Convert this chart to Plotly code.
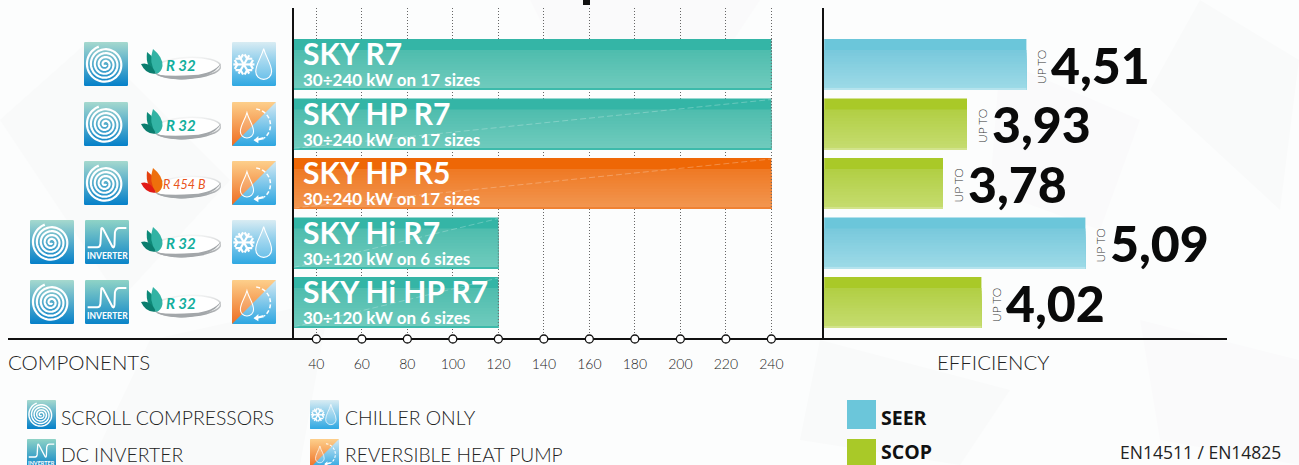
import base64, math
import plotly.graph_objects as go

W, H = 1299, 465
# ---------- data ----------
models = ["SKY R7", "SKY HP R7", "SKY HP R5", "SKY Hi R7", "SKY Hi HP R7"]
subtitles = ["30÷240 kW on 17 sizes", "30÷240 kW on 17 sizes", "30÷240 kW on 17 sizes",
             "30÷120 kW on 6 sizes", "30÷120 kW on 6 sizes"]
capacity_kw = [240, 240, 240, 120, 120]
capacity_start = 30
refrigerants = ["R 32", "R 32", "R 454 B", "R 32", "R 32"]
modes = ["chiller", "hp", "hp", "chiller", "hp"]
has_inverter = [False, False, False, True, True]
seer_models = ["SKY R7", "SKY Hi R7"]
seer_values = [4.51, 5.09]
scop_models = ["SKY HP R7", "SKY HP R5", "SKY Hi HP R7"]
scop_values = [3.93, 3.78, 4.02]
capacity_ticks = [40, 60, 80, 100, 120, 140, 160, 180, 200, 220, 240]

# ---------- styling ----------
TEAL = dict(band="#34b5a6", top="#4fbdae", bottom="#70cbbd", edge="#3dbaab")
ORANGE = dict(band="#ee6706", top="#ef7a25", bottom="#f29650", edge="#f08233")
BLUE = dict(band="#6bc6da", top="#79c9dc", bottom="#9ddae7", edge="#b5e3ed")
GREEN = dict(band="#a9c928", top="#b2cf45", bottom="#c5dc6f", edge="#d2e38c")
bar_fam = [TEAL, TEAL, ORANGE, TEAL, TEAL]
FONT = "Lato"
BAR_H = 51 / 59.5
PX = lambda v: v / W
PY = lambda v: 1 - v / H
ROW_Y = [42, 102, 161, 220, 280]


def mix(a, b, t):
    ca = [int(a[i:i + 2], 16) for i in (1, 3, 5)]
    cb = [int(b[i:i + 2], 16) for i in (1, 3, 5)]
    return "#" + "".join(f"{round(x + (y - x) * t):02x}" for x, y in zip(ca, cb))


def add_gradient_bars(fig, names, vals, fams, xa, ya):
    band = 11 / 51
    n = 14
    fig.add_trace(go.Bar(y=names, x=vals, orientation="h", xaxis=xa, yaxis=ya, width=BAR_H, offset=-BAR_H / 2,
                         marker=dict(color=[f["band"] for f in fams], line_width=0), hoverinfo="skip"))
    for i in range(n):
        t = i / (n - 1)
        f0 = band + (1 - band) * i / n
        fig.add_trace(go.Bar(y=names, x=vals, orientation="h", xaxis=xa, yaxis=ya,
                             width=BAR_H * (1 - f0), offset=-BAR_H / 2 + BAR_H * f0,
                             marker=dict(color=[mix(f["top"], f["bottom"], t) for f in fams], line_width=0),
                             hoverinfo="skip"))
    f0 = 1 - 1.2 / 51
    fig.add_trace(go.Bar(y=names, x=vals, orientation="h", xaxis=xa, yaxis=ya,
                         width=BAR_H * (1 - f0), offset=-BAR_H / 2 + BAR_H * f0,
                         marker=dict(color=[f["edge"] for f in fams], line_width=0), hoverinfo="skip"))


# ---------- icons (svg) ----------
def uri(svg):
    return "data:image/svg+xml;base64," + base64.b64encode(svg.encode()).decode()


def spiral_path(cx, cy, r0, r1, turns):
    pts = []
    for i in range(281):
        t = i / 280
        a = t * turns * 2 * math.pi + 0.6
        r = r0 + (r1 - r0) * t
        pts.append(f"{cx + r * math.cos(a):.1f} {cy + r * math.sin(a):.1f}")
    return "M" + " L".join(pts)


def grad(id_, c0, c1):
    return (f'<linearGradient id="{id_}" x1="0" y1="0" x2="0" y2="1"><stop offset="0" stop-color="{c0}"/>'
            f'<stop offset="1" stop-color="{c1}"/></linearGradient>')


def scroll_icon():
    return uri('<svg xmlns="http://www.w3.org/2000/svg" viewBox="0 0 100 100"><defs>' + grad("g", "#a6d9ce", "#0580c9") +
               '</defs><rect width="100" height="100" rx="3" fill="url(#g)"/>'
               f'<path d="{spiral_path(48, 51, 2, 43, 4.6)}" fill="none" stroke="#fff" stroke-width="5"/></svg>')


def inverter_icon():
    return uri('<svg xmlns="http://www.w3.org/2000/svg" viewBox="0 0 100 100"><defs>' + grad("g", "#8fd3c6", "#0a84c9") +
               '</defs><rect width="100" height="100" rx="3" fill="url(#g)"/>'
               '<path d="M6 62 H28 Q34 62 35 54 L37 20 Q38 16 41 20 L62 60 Q66 66 67 56 L68 28 Q70 18 78 18 H94" '
               'fill="none" stroke="#fff" stroke-width="4.5"/></svg>')


DROP = "M{x} {y} C{a} {b} {c} {d} {c} {e} A{r} {r} 0 1 1 {f} {e} C{f} {d} {g} {b} {x} {y}Z"


def drop(x, y, r, h):
    return DROP.format(x=x, y=y, a=x + r * .3, b=y + h * .3, c=x + r, d=y + h * .5, e=y + h - r, r=r,
                       f=x - r, g=x - r * .3)


def chiller_icon():
    cx, cy = 27, 51
    arms = "".join(f'<line x1="{cx}" y1="{cy}" x2="{cx + 24 * math.cos(a):.1f}" y2="{cy + 24 * math.sin(a):.1f}"/>'
                   f'<line x1="{cx + 15 * math.cos(a):.1f}" y1="{cy + 15 * math.sin(a):.1f}" '
                   f'x2="{cx + 23 * math.cos(a + .45):.1f}" y2="{cy + 23 * math.sin(a + .45):.1f}"/>'
                   f'<line x1="{cx + 15 * math.cos(a):.1f}" y1="{cy + 15 * math.sin(a):.1f}" '
                   f'x2="{cx + 23 * math.cos(a - .45):.1f}" y2="{cy + 23 * math.sin(a - .45):.1f}"/>'
                   for a in [i * math.pi / 3 for i in range(6)])
    return uri('<svg xmlns="http://www.w3.org/2000/svg" viewBox="0 0 100 100"><defs>' + grad("g", "#d9ecf3", "#2fa8e2") +
               '</defs><rect width="100" height="100" rx="3" fill="url(#g)"/>'
               f'<g stroke="#fff" stroke-width="5">{arms}</g>'
               f'<path d="{drop(72, 15, 18, 70)}" fill="#ffffff33" stroke="#fff" stroke-width="2.5"/></svg>')


def hp_icon():
    return uri('<svg xmlns="http://www.w3.org/2000/svg" viewBox="0 0 100 100"><defs>' +
               grad("o", "#fdcf8b", "#ee6d22") + grad("b", "#d6eaf3", "#2da6e1") +
               '</defs><rect width="100" height="100" rx="3" fill="url(#b)"/>'
               '<path d="M0 3 Q0 0 3 0 H100 L0 100Z" fill="url(#o)"/>'
               f'<path d="{drop(34, 24, 15, 58)}" fill="#ffffff22" stroke="#fff" stroke-width="2.4"/>'
               '<path d="M55 16 A37 37 0 0 1 73 82" fill="none" stroke="#fff" stroke-width="3.5" stroke-dasharray="9 5"/>'
               '<path d="M72 82 L52 87" fill="none" stroke="#fff" stroke-width="5"/>'
               '<path d="M49 87 L60 77 L60 94Z" fill="#fff"/></svg>')


def logo_icon(c_dark, c_mid, c_light):
    return uri('<svg xmlns="http://www.w3.org/2000/svg" viewBox="0 0 80 31" preserveAspectRatio="none"><defs>' +
               grad("s", "#f4f5f5", "#9da1a4") + '</defs>'
               '<g transform="rotate(-3 45 17)"><ellipse cx="46" cy="19" rx="33.5" ry="10.5" fill="#fff" stroke="url(#s)" stroke-width="1.6"/>'
               '<path d="M14 24 Q34 34 62 28 Q77 24 80 16 Q72 26 52 26.5 Q30 27 14 24Z" fill="#a3a7aa"/></g>'
               f'<path d="M6 3 Q15 9 16 24 Q4 20 6 3Z" fill="{c_mid}"/>'
               f'<path d="M0 15 Q9 12 15 24.5 Q5 26 0 15Z" fill="{c_dark}"/>'
               f'<path d="M12 0 Q22 8 21.5 17 Q20.5 23 15.5 25 Q7 14 12 0Z" fill="{c_light}"/></svg>')


SCROLL, INV, CHILL, HP = scroll_icon(), inverter_icon(), chiller_icon(), hp_icon()
L_TEAL = logo_icon("#0b7d6e", "#0e8a79", "#32b3a4")
L_RED = logo_icon("#e11a16", "#e5410f", "#ee6f0c")

# ---------- figure ----------
fig = go.Figure()
add_gradient_bars(fig, models, capacity_kw, bar_fam, "x", "y")
add_gradient_bars(fig, seer_models, seer_values, [BLUE] * len(seer_models), "x2", "y2")
add_gradient_bars(fig, scop_models, scop_values, [GREEN] * len(scop_models), "x3", "y2")
fig.add_trace(go.Scatter(x=capacity_ticks, y=[0] * len(capacity_ticks), xaxis="x", yaxis="y3", mode="markers",
                         cliponaxis=False, hoverinfo="skip",
                         marker=dict(size=8, color="#ffffff", line=dict(color="#111111", width=1.3))))

images, shapes, ann = [], [], []


def img(src, x0, y0, w, h):
    images.append(dict(source=src, xref="paper", yref="paper", x=PX(x0), y=PY(y0), sizex=w / W, sizey=h / H,
                       xanchor="left", yanchor="top", sizing="stretch", layer="above"))


def text(s, x, y, size, color="#222222", weight=400, family=FONT, anchor="left", **kw):
    ann.append(dict(text=s, xref="paper", yref="paper", x=PX(x), y=PY(y), xanchor=anchor, yanchor="middle",
                    showarrow=False, font=dict(family=family, size=size, color=color, weight=weight),
                    borderpad=0, **kw))


# faint background facets
facets = [
    ([(0, 120), (90, 40), (230, 180), (120, 300)], "#f9fafa"),
    ([(150, 340), (330, 300), (300, 465), (90, 465)], "#f9fafa"),
    ([(530, 0), (760, 0), (700, 90), (560, 60)], "#fafafb"),
    ([(1000, 60), (1140, 120), (1100, 230), (990, 190)], "#fafafb"),
    ([(820, 340), (1010, 390), (960, 465), (800, 440)], "#f9fafa"),
    ([(1140, 320), (1299, 360), (1299, 465), (1160, 440)], "#fafafb"),
    ([(1200, 0), (1299, 60), (1280, 210), (1150, 90)], "#f9fafa"),
]
for pts, c in facets:
    shapes.append(dict(type="path", xref="paper", yref="paper", layer="below", line_width=0, fillcolor=c,
                       path="M" + " L".join(f"{PX(a):.5f} {PY(b):.5f}" for a, b in pts) + "Z"))

shapes.append(dict(type="line", xref="paper", yref="paper", layer="below", x0=PX(8), x1=PX(1227), y0=PY(339), y1=PY(339),
                   line=dict(color="#111111", width=2)))
shapes.append(dict(type="rect", xref="paper", yref="paper", layer="above", x0=PX(583), x1=PX(590), y0=PY(0), y1=PY(5),
                   line_width=0, fillcolor="#111111"))

CENTERS = [64.5, 124, 183.5, 243, 302.5]
for i, m in enumerate(models):
    # row icons
    y = ROW_Y[i]
    if has_inverter[i]:
        img(SCROLL, 30, y, 44, 44)
        img(INV, 85, y, 44, 44)
        text("INVERTER", 107, y + 36, 8.5, "#ffffff", 700, anchor="center")
    else:
        img(SCROLL, 84, y, 44, 44)
    red = refrigerants[i] != "R 32"
    img(L_RED if red else L_TEAL, 141, y + 7, 80, 31)
    if red:
        text(f"<i>{refrigerants[i]}</i>", 162, y + 23, 12.5, "#e9541c", 400, anchor="left")
    else:
        text(f"<i>{refrigerants[i]}</i>", 165, y + 23, 15, "#13ae9d", 700, anchor="left")
    img(CHILL if modes[i] == "chiller" else HP, 232, y, 44, 44)
    # bar labels: one annotation holding model name and capacity line
    ann.append(dict(text=f'<span style="font-size:30px">{m}</span><br><span style="font-size:17px">{subtitles[i]}</span>',
                    xref="x", yref="y",
                    x=capacity_start, y=m, xanchor="left", yanchor="middle", align="left", xshift=7,
                    yshift=2, showarrow=False, font=dict(family=FONT, size=16, color="#ffffff", weight=700)))
    # dotted bar end + diagonal sheen
    top, bot = CENTERS[i] - 25.5, CENTERS[i] + 25.5
    shapes.append(dict(type="line", xref="x", yref="paper", layer="above", x0=capacity_kw[i], x1=capacity_kw[i],
                       y0=PY(top), y1=PY(bot), line=dict(color="#666666", width=1, dash="1px,2px")))
    if i > 0:
        shapes.append(dict(type="line", xref="x", yref="paper", layer="above", x0=capacity_start, x1=capacity_kw[i],
                           y0=PY(bot - 1), y1=PY(top + 1), line=dict(color="rgba(255,255,255,0.25)", width=1, dash="6px,3px")))

for names, vals, xr in [(seer_models, seer_values, "x2"), (scop_models, scop_values, "x3")]:
    for m, v in zip(names, vals):
        ann.append(dict(text=f"{v:.2f}".replace(".", ","), xref=xr, yref="y2", x=v, y=m, xanchor="left", yanchor="middle",
                        xshift=22.5, yshift=0, showarrow=False, font=dict(family=FONT, size=50, color="#0a0a0a", weight=900)))
        ann.append(dict(text="UP TO", xref=xr, yref="y2", x=v, y=m, xanchor="center", yanchor="middle", textangle=-90,
                        xshift=15, yshift=-2, showarrow=False, font=dict(family=FONT, size=12, color="#333333", weight=300)))

# section titles + legend
text("COMPONENTS", 7, 362, 20.5, "#222222", 300)
text("EFFICIENCY", 936, 362, 20.4, "#222222", 300)
img(SCROLL, 27, 400, 29, 29)
img(INV, 27, 439, 29, 29)
text("INVERTER", 41.5, 463, 5.5, "#ffffff", 700, anchor="center")
img(CHILL, 310, 400, 29, 29)
img(HP, 310, 439, 29, 29)
text("SCROLL COMPRESSORS", 60, 417, 19.4, "#222222", 300)
text("DC INVERTER", 60, 454, 19.4, "#222222", 300)
text("CHILLER ONLY", 344, 417, 19.4, "#222222", 300)
text("REVERSIBLE HEAT PUMP", 344, 454, 19.2, "#222222", 300)
for y0, c in [(400, BLUE["band"]), (439, GREEN["band"])]:
    shapes.append(dict(type="rect", xref="paper", yref="paper", layer="above", x0=PX(847), x1=PX(876), y0=PY(y0), y1=PY(y0 + 29),
                       line_width=0, fillcolor=c))
text("SEER", 880, 417, 19.5, "#111111", 700, family="Open Sans")
text("SCOP", 880, 451.5, 19.5, "#111111", 700, family="Open Sans")
text("EN14511 / EN14825", 1119, 452, 17.5, "#222222", 400, family="Open Sans")

dom_y = [PY(339), PY(8)]
y_range = [(339 - 64.5) / 59.5, (8 - 64.5) / 59.5]
L1, R1, L2, R2 = 293.6, 823, 824.2, 1227
fig.update_layout(
    width=W, height=H, autosize=False, margin=dict(l=0, r=0, t=0, b=0), showlegend=False,
    barmode="overlay", paper_bgcolor="#fcfdfd", plot_bgcolor="rgba(0,0,0,0)",
    images=images, shapes=shapes, annotations=ann,
    xaxis=dict(domain=[PX(L1), PX(R1)], range=[30, 30 + (R1 - L1) / 2.275], anchor="y", tickmode="array",
               tickvals=capacity_ticks, ticktext=[str(t) for t in capacity_ticks], ticks="", zeroline=False,
               showgrid=True, gridcolor="#666666", griddash="1px,2px", gridwidth=1, showline=False,
               ticklabelstandoff=15, tickfont=dict(family=FONT, size=14, color="#222222", weight=300)),
    yaxis=dict(domain=dom_y, type="category", categoryorder="array", categoryarray=models, range=y_range, anchor="x",
               showticklabels=False, ticks="", showgrid=False, zeroline=False, showline=True, linecolor="#111111", linewidth=1.6),
    xaxis2=dict(domain=[PX(L2), PX(R2)], range=[3.03 - 0.52 + (L2 - 823) / 101.7, 2.51 + 404 / 101.7], anchor="y2", visible=False),
    xaxis3=dict(domain=[PX(L2), PX(R2)], range=[3.03 + (L2 - 823) / 160, 3.03 + 404 / 160], anchor="y2", overlaying="x2", visible=False),
    yaxis2=dict(domain=dom_y, type="category", categoryorder="array", categoryarray=models, range=y_range, anchor="x2",
                showticklabels=False, ticks="", showgrid=False, zeroline=False, showline=True, linecolor="#111111", linewidth=1.6),
    yaxis3=dict(domain=dom_y, range=[0, 1], overlaying="y", anchor="x", visible=False),
)
fig.write_html("out.html", post_script="document.body.style.margin='0';document.body.style.overflow='hidden';",
               config=dict(displayModeBar=False))
